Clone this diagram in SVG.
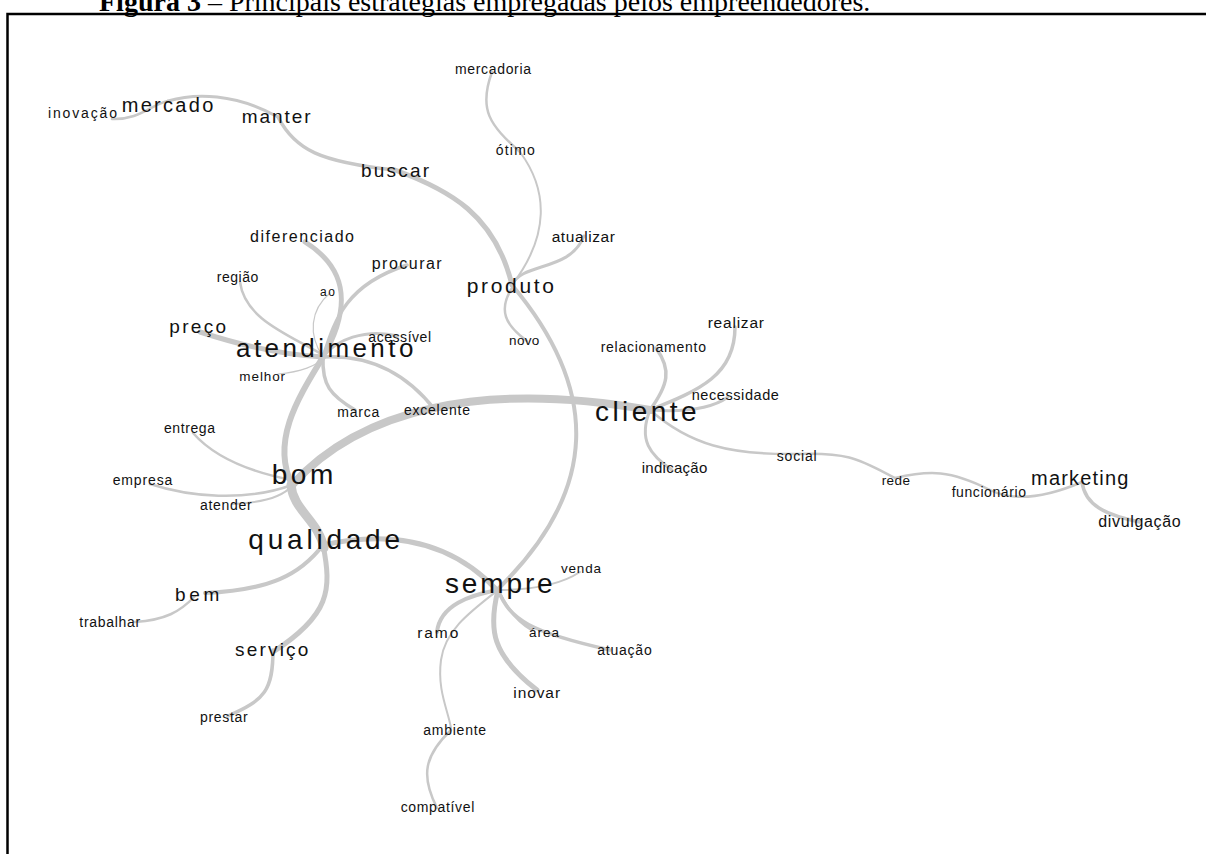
<svg xmlns="http://www.w3.org/2000/svg" width="1206" height="854" viewBox="0 0 1206 854">
<style>
.e{fill:none;stroke:#c8c8c8;stroke-linecap:round}
.t{font-family:"Liberation Sans",Arial,sans-serif;fill:#111;text-anchor:middle}
.title{font-family:"Liberation Serif","Times New Roman",serif;font-size:28px;fill:#000}
</style>
<rect width="1206" height="854" fill="#fff"/>
<text class="title" x="99" y="11"><tspan font-weight="bold">Figura 3</tspan> – Principais estratégias empregadas pelos empreendedores.</text>
<path d="M7.5,854 V14 H1206" fill="none" stroke="#000" stroke-width="2.5"/>
<g id="edges">
<path class="e" stroke-width="2.5" d="M112,119 C140,120 150,105 168,101"/>
<path class="e" stroke-width="3" d="M168,101 C195,93 235,93 278,117"/>
<path class="e" stroke-width="3.5" d="M278,117 C295,150 320,162 395,170"/>
<path class="e" stroke-width="5" d="M395,170 C450,190 495,215 512,285"/>
<path class="e" stroke-width="2.5" d="M492,72 C478,110 490,125 520,152"/>
<path class="e" stroke-width="2" d="M520,152 C548,190 550,235 512,285"/>
<path class="e" stroke-width="3" d="M512,285 C522,262 570,272 584,236"/>
<path class="e" stroke-width="2.5" d="M512,288 C498,310 505,325 527,341"/>
<path class="e" stroke-width="4" d="M512,285 C600,390 600,490 497,590"/>
<path class="e" stroke-width="8" d="M292,485 C360,410 480,380 650,410"/>
<path class="e" stroke-width="9" d="M291,485 C293,510 318,520 324,548"/>
<path class="e" stroke-width="6" d="M323,357 C300,395 270,440 292,485"/>
<path class="e" stroke-width="5" d="M305,242 C350,270 350,310 323,357"/>
<path class="e" stroke-width="3.5" d="M323,357 C335,320 345,285 407,265"/>
<path class="e" stroke-width="2.5" d="M240,282 C245,320 290,335 323,355"/>
<path class="e" stroke-width="1.2" d="M330,293 C310,310 308,335 323,357"/>
<path class="e" stroke-width="5" d="M200,332 C240,345 280,355 323,357"/>
<path class="e" stroke-width="3" d="M323,357 C335,340 365,328 398,336"/>
<path class="e" stroke-width="3.5" d="M323,357 C360,355 400,365 435,410"/>
<path class="e" stroke-width="1.2" d="M323,357 C318,366 300,372 278,374"/>
<path class="e" stroke-width="3.5" d="M323,357 C322,385 330,395 355,410"/>
<path class="e" stroke-width="2.5" d="M193,433 C215,458 250,472 292,480"/>
<path class="e" stroke-width="2.5" d="M150,484 C190,497 245,502 292,485"/>
<path class="e" stroke-width="2" d="M232,504 C260,503 282,497 292,486"/>
<path class="e" stroke-width="4" d="M323,545 C300,575 270,590 205,593"/>
<path class="e" stroke-width="2.5" d="M195,596 C180,612 165,620 135,622"/>
<path class="e" stroke-width="5" d="M323,545 C332,590 330,615 273,652"/>
<path class="e" stroke-width="3.5" d="M273,650 C273,690 265,700 228,716"/>
<path class="e" stroke-width="5" d="M323,545 C390,530 450,540 497,590"/>
<path class="e" stroke-width="2" d="M498,590 C530,590 560,585 580,572"/>
<path class="e" stroke-width="4" d="M498,590 C470,595 440,605 437,632"/>
<path class="e" stroke-width="2" d="M498,590 C470,612 445,630 441,660 S448,710 451,728"/>
<path class="e" stroke-width="2.5" d="M451,730 C425,755 420,775 437,808"/>
<path class="e" stroke-width="5" d="M498,590 C488,630 492,655 537,690"/>
<path class="e" stroke-width="3" d="M498,590 C505,605 515,620 532,630"/>
<path class="e" stroke-width="3.5" d="M498,590 C510,620 530,632 610,650"/>
<path class="e" stroke-width="3.5" d="M650,410 C668,385 672,370 656,348"/>
<path class="e" stroke-width="3.5" d="M650,410 C700,390 735,375 735,327"/>
<path class="e" stroke-width="3" d="M650,410 C680,412 710,410 728,397"/>
<path class="e" stroke-width="3" d="M650,410 C638,440 650,455 672,470"/>
<path class="e" stroke-width="2.5" d="M650,410 C690,445 730,455 797,454"/>
<path class="e" stroke-width="2.5" d="M797,454 C850,452 860,460 895,478"/>
<path class="e" stroke-width="2.5" d="M895,478 C930,470 950,470 990,490"/>
<path class="e" stroke-width="2.5" d="M990,490 C1010,500 1040,500 1082,482"/>
<path class="e" stroke-width="3.5" d="M1082,482 C1085,505 1105,515 1140,522"/>
</g>
<g id="n-inovacao"><text class="t" x="82.5" y="118" font-size="14" textLength="69" lengthAdjust="spacing">inovação</text></g>
<g id="n-mercado"><text class="t" x="167.5" y="111.5" font-size="20" textLength="91.6" lengthAdjust="spacing">mercado</text></g>
<g id="n-manter"><text class="t" x="276.2" y="123" font-size="19" textLength="69" lengthAdjust="spacing">manter</text></g>
<g id="n-buscar"><text class="t" x="395" y="177" font-size="19" textLength="68" lengthAdjust="spacing">buscar</text></g>
<g id="n-mercadoria"><text class="t" x="493" y="73.5" font-size="14" textLength="76" lengthAdjust="spacing">mercadoria</text></g>
<g id="n-otimo"><text class="t" x="515.3" y="155" font-size="14" textLength="39" lengthAdjust="spacing">ótimo</text></g>
<g id="n-diferenciado"><text class="t" x="302" y="241.5" font-size="16" textLength="104" lengthAdjust="spacing">diferenciado</text></g>
<g id="n-procurar"><text class="t" x="406.7" y="269" font-size="16" textLength="70" lengthAdjust="spacing">procurar</text></g>
<g id="n-regiao"><text class="t" x="237.5" y="281.5" font-size="14" textLength="41.6" lengthAdjust="spacing">região</text></g>
<g id="n-ao"><text class="t" x="327.5" y="296" font-size="12" textLength="15" lengthAdjust="spacing">ao</text></g>
<g id="n-preco"><text class="t" x="197.7" y="333" font-size="19" textLength="56.7" lengthAdjust="spacing">preço</text></g>
<g id="n-atendimento"><text class="t" x="324.7" y="357" font-size="26" textLength="177.3" lengthAdjust="spacing">atendimento</text></g>
<g id="n-acessivel"><text class="t" x="399.7" y="341.5" font-size="14" textLength="62.7" lengthAdjust="spacing">acessível</text></g>
<g id="n-melhor"><text class="t" x="262.2" y="380.5" font-size="13.5" textLength="45.7" lengthAdjust="spacing">melhor</text></g>
<g id="n-marca"><text class="t" x="358.3" y="417" font-size="14" textLength="42" lengthAdjust="spacing">marca</text></g>
<g id="n-excelente"><text class="t" x="437" y="415" font-size="14" textLength="66" lengthAdjust="spacing">excelente</text></g>
<g id="n-entrega"><text class="t" x="189.5" y="433.3" font-size="14" textLength="51" lengthAdjust="spacing">entrega</text></g>
<g id="n-atualizar"><text class="t" x="583.3" y="241.5" font-size="15.5" textLength="63.3" lengthAdjust="spacing">atualizar</text></g>
<g id="n-produto"><text class="t" x="510.3" y="293.3" font-size="21" textLength="87.3" lengthAdjust="spacing">produto</text></g>
<g id="n-novo"><text class="t" x="524.2" y="345" font-size="13.5" textLength="30.3" lengthAdjust="spacing">novo</text></g>
<g id="n-realizar"><text class="t" x="735.8" y="328.3" font-size="15.5" textLength="56.3" lengthAdjust="spacing">realizar</text></g>
<g id="n-relacionamento"><text class="t" x="653.3" y="352.3" font-size="14" textLength="105.3" lengthAdjust="spacing">relacionamento</text></g>
<g id="n-necessidade"><text class="t" x="735.3" y="400" font-size="14.5" textLength="87.3" lengthAdjust="spacing">necessidade</text></g>
<g id="n-cliente"><text class="t" x="645.8" y="420.5" font-size="28" textLength="101.7" lengthAdjust="spacing">cliente</text></g>
<g id="n-indicacao"><text class="t" x="674.5" y="473" font-size="15" textLength="65.6" lengthAdjust="spacing">indicação</text></g>
<g id="n-social"><text class="t" x="796.7" y="460.5" font-size="14" textLength="40" lengthAdjust="spacing">social</text></g>
<g id="n-rede"><text class="t" x="895.8" y="485" font-size="13.5" textLength="28.3" lengthAdjust="spacing">rede</text></g>
<g id="n-funcionario"><text class="t" x="988.8" y="496.5" font-size="14" textLength="74.3" lengthAdjust="spacing">funcionário</text></g>
<g id="n-marketing"><text class="t" x="1079.7" y="485" font-size="20" textLength="97.3" lengthAdjust="spacing">marketing</text></g>
<g id="n-divulgacao"><text class="t" x="1139.5" y="527" font-size="16" textLength="82.4" lengthAdjust="spacing">divulgação</text></g>
<g id="n-bom"><text class="t" x="302.5" y="484" font-size="28" textLength="61.6" lengthAdjust="spacing">bom</text></g>
<g id="n-empresa"><text class="t" x="142.5" y="485" font-size="14" textLength="59.6" lengthAdjust="spacing">empresa</text></g>
<g id="n-atender"><text class="t" x="225.8" y="510" font-size="14" textLength="51.7" lengthAdjust="spacing">atender</text></g>
<g id="n-qualidade"><text class="t" x="324.2" y="549" font-size="28" textLength="151.7" lengthAdjust="spacing">qualidade</text></g>
<g id="n-bem"><text class="t" x="197.2" y="600.5" font-size="19" textLength="44.3" lengthAdjust="spacing">bem</text></g>
<g id="n-trabalhar"><text class="t" x="109.7" y="627.3" font-size="14" textLength="60.7" lengthAdjust="spacing">trabalhar</text></g>
<g id="n-servico"><text class="t" x="271.7" y="656" font-size="19" textLength="73.3" lengthAdjust="spacing">serviço</text></g>
<g id="n-prestar"><text class="t" x="223.8" y="721.5" font-size="14" textLength="47.7" lengthAdjust="spacing">prestar</text></g>
<g id="n-venda"><text class="t" x="581" y="573.3" font-size="13.5" textLength="40" lengthAdjust="spacing">venda</text></g>
<g id="n-sempre"><text class="t" x="498.8" y="593.3" font-size="28" textLength="107.7" lengthAdjust="spacing">sempre</text></g>
<g id="n-ramo"><text class="t" x="437.8" y="638.3" font-size="15.5" textLength="41" lengthAdjust="spacing">ramo</text></g>
<g id="n-area"><text class="t" x="544" y="636.7" font-size="13.5" textLength="30" lengthAdjust="spacing">área</text></g>
<g id="n-atuacao"><text class="t" x="624.5" y="655" font-size="14" textLength="54.4" lengthAdjust="spacing">atuação</text></g>
<g id="n-inovar"><text class="t" x="536.7" y="698.3" font-size="15.5" textLength="46.7" lengthAdjust="spacing">inovar</text></g>
<g id="n-ambiente"><text class="t" x="454.7" y="735" font-size="14" textLength="62.7" lengthAdjust="spacing">ambiente</text></g>
<g id="n-compativel"><text class="t" x="437.5" y="812.3" font-size="14" textLength="73.6" lengthAdjust="spacing">compatível</text></g>
</svg>
